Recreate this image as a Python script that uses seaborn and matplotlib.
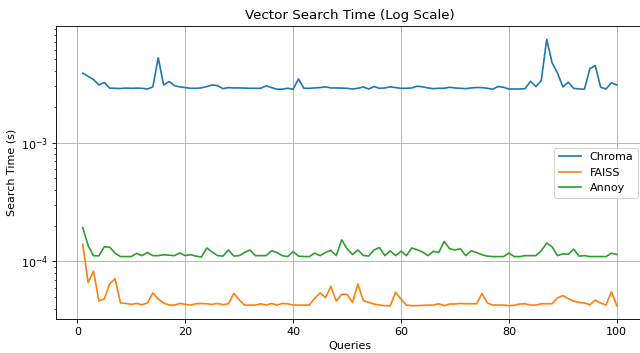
import numpy as np
import matplotlib
matplotlib.use("Agg")
import matplotlib.pyplot as plt
import seaborn as sns
import pandas as pd

queries = list(range(1, 101))

chroma = [
    3.83e-3, 3.61e-3, 3.39e-3, 3.05e-3, 3.20e-3, 2.87e-3, 2.86e-3, 2.85e-3, 2.87e-3, 2.86e-3,
    2.87e-3, 2.86e-3, 2.82e-3, 2.94e-3, 5.16e-3, 3.05e-3, 3.26e-3, 3.01e-3, 2.94e-3, 2.90e-3,
    2.86e-3, 2.86e-3, 2.88e-3, 2.96e-3, 3.05e-3, 3.01e-3, 2.84e-3, 2.90e-3, 2.88e-3, 2.88e-3,
    2.87e-3, 2.86e-3, 2.86e-3, 2.86e-3, 3.00e-3, 2.90e-3, 2.81e-3, 2.81e-3, 2.86e-3, 2.81e-3,
    3.43e-3, 2.86e-3, 2.86e-3, 2.88e-3, 2.90e-3, 2.94e-3, 2.88e-3, 2.88e-3, 2.87e-3, 2.86e-3,
    2.82e-3, 2.86e-3, 2.94e-3, 2.82e-3, 2.96e-3, 2.86e-3, 2.88e-3, 2.94e-3, 2.90e-3, 2.86e-3,
    2.86e-3, 2.88e-3, 2.98e-3, 2.94e-3, 2.88e-3, 2.84e-3, 2.86e-3, 2.86e-3, 2.92e-3, 2.88e-3,
    2.86e-3, 2.84e-3, 2.88e-3, 2.90e-3, 2.90e-3, 2.86e-3, 2.81e-3, 2.96e-3, 2.92e-3, 2.82e-3,
    2.82e-3, 2.82e-3, 2.84e-3, 3.28e-3, 2.96e-3, 3.32e-3, 7.38e-3, 4.69e-3, 3.85e-3, 2.94e-3,
    3.22e-3, 2.86e-3, 2.82e-3, 2.81e-3, 4.17e-3, 4.45e-3, 2.92e-3, 2.82e-3, 3.18e-3, 3.05e-3,
]

faiss = [
    1.40e-4, 6.68e-5, 8.28e-5, 4.66e-5, 4.84e-5, 6.48e-5, 7.15e-5, 4.48e-5, 4.44e-5, 4.36e-5,
    4.44e-5, 4.33e-5, 4.48e-5, 5.44e-5, 4.83e-5, 4.48e-5, 4.30e-5, 4.30e-5, 4.44e-5, 4.36e-5,
    4.30e-5, 4.41e-5, 4.44e-5, 4.41e-5, 4.36e-5, 4.44e-5, 4.33e-5, 4.41e-5, 5.40e-5, 4.77e-5,
    4.30e-5, 4.30e-5, 4.30e-5, 4.41e-5, 4.30e-5, 4.44e-5, 4.30e-5, 4.44e-5, 4.41e-5, 4.30e-5,
    4.30e-5, 4.30e-5, 4.30e-5, 4.90e-5, 5.44e-5, 4.96e-5, 6.18e-5, 4.65e-5, 5.30e-5, 5.30e-5,
    4.53e-5, 6.47e-5, 4.70e-5, 4.53e-5, 4.39e-5, 4.30e-5, 4.25e-5, 4.25e-5, 5.50e-5, 4.83e-5,
    4.30e-5, 4.25e-5, 4.25e-5, 4.28e-5, 4.30e-5, 4.30e-5, 4.41e-5, 4.25e-5, 4.39e-5, 4.39e-5,
    4.44e-5, 4.41e-5, 4.41e-5, 4.41e-5, 5.37e-5, 4.48e-5, 4.30e-5, 4.30e-5, 4.30e-5, 4.25e-5,
    4.28e-5, 4.39e-5, 4.41e-5, 4.30e-5, 4.30e-5, 4.41e-5, 4.41e-5, 4.41e-5, 4.93e-5, 5.17e-5,
    4.87e-5, 4.65e-5, 4.53e-5, 4.48e-5, 4.33e-5, 4.73e-5, 4.48e-5, 4.30e-5, 5.57e-5, 4.25e-5,
]

annoy = [
    1.93e-4, 1.365e-4, 1.117e-4, 1.117e-4, 1.33e-4, 1.32e-4, 1.175e-4, 1.10e-4, 1.10e-4, 1.10e-4,
    1.17e-4, 1.12e-4, 1.19e-4, 1.12e-4, 1.12e-4, 1.14e-4, 1.13e-4, 1.12e-4, 1.18e-4, 1.12e-4,
    1.14e-4, 1.11e-4, 1.09e-4, 1.30e-4, 1.20e-4, 1.12e-4, 1.11e-4, 1.25e-4, 1.11e-4, 1.12e-4,
    1.19e-4, 1.25e-4, 1.12e-4, 1.12e-4, 1.12e-4, 1.23e-4, 1.19e-4, 1.12e-4, 1.10e-4, 1.21e-4,
    1.11e-4, 1.10e-4, 1.10e-4, 1.175e-4, 1.12e-4, 1.19e-4, 1.24e-4, 1.12e-4, 1.52e-4, 1.28e-4,
    1.145e-4, 1.25e-4, 1.125e-4, 1.11e-4, 1.25e-4, 1.31e-4, 1.12e-4, 1.23e-4, 1.12e-4, 1.22e-4,
    1.12e-4, 1.30e-4, 1.255e-4, 1.20e-4, 1.12e-4, 1.22e-4, 1.19e-4, 1.475e-4, 1.28e-4, 1.25e-4,
    1.28e-4, 1.12e-4, 1.23e-4, 1.19e-4, 1.14e-4, 1.11e-4, 1.10e-4, 1.10e-4, 1.10e-4, 1.175e-4,
    1.10e-4, 1.10e-4, 1.12e-4, 1.12e-4, 1.12e-4, 1.23e-4, 1.43e-4, 1.33e-4, 1.12e-4, 1.16e-4,
    1.15e-4, 1.27e-4, 1.11e-4, 1.12e-4, 1.10e-4, 1.10e-4, 1.10e-4, 1.10e-4, 1.175e-4, 1.145e-4,
]

series = {"Chroma": chroma, "FAISS": faiss, "Annoy": annoy}

fig = plt.figure(figsize=(8, 4.4125), dpi=80)
ax = fig.add_axes([0.0875, 0.0963, 0.918, 0.830])

for name, vals in series.items():
    sns.lineplot(x=queries, y=vals, label=name, ax=ax)

ax.set_yscale("log")
ax.set_title("Vector Search Time (Log Scale)")
ax.set_xlabel("Queries")
ax.set_ylabel("Search Time (s)")
ax.grid(True)
ax.legend(loc="center right")

fig.savefig("out.png", dpi=80)
